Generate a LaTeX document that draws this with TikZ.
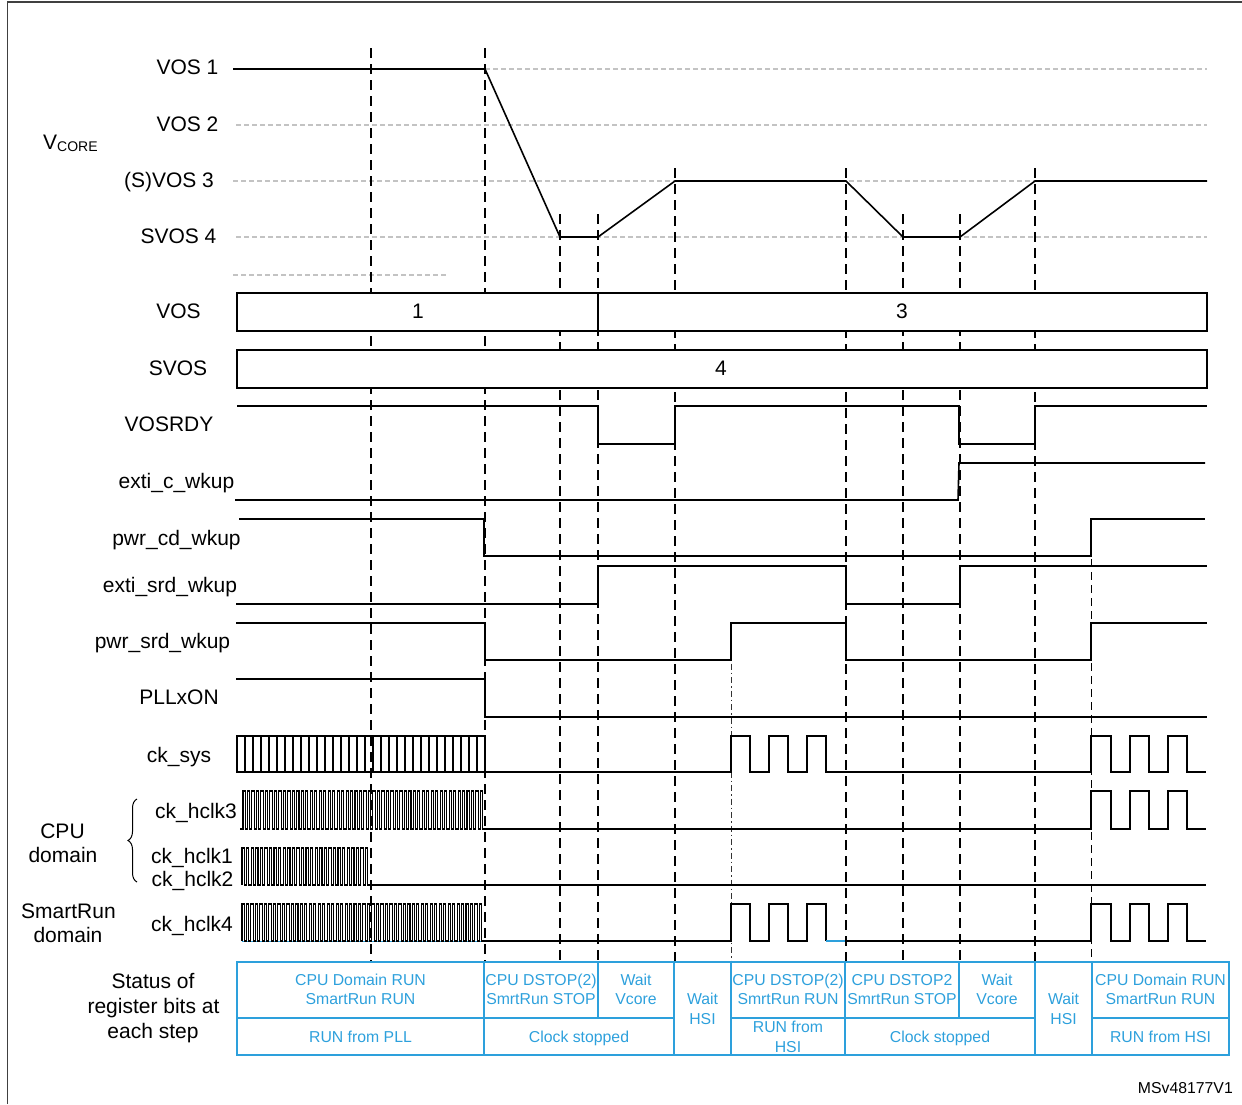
\documentclass[tikz,border=0pt]{standalone}
\usepackage{fontspec}
\setmainfont{Liberation Sans}
\usetikzlibrary{decorations.pathreplacing}
\definecolor{tblue}{RGB}{45,160,220}
\definecolor{lgray}{RGB}{195,195,195}
\begin{document}
\begin{tikzpicture}[x=1pt,y=-1pt,
  sig/.style={line width=1.6pt, line join=miter},
  dense/.style={line width=1.05pt},
  vdash/.style={line width=1.3pt, dash pattern=on 10pt off 6pt},
  vdashthin/.style={line width=0.9pt, dash pattern=on 8pt off 5pt},
  vdashdot/.style={line width=0.9pt, black!80, dash pattern=on 6pt off 3pt on 1.5pt off 3pt},
  gdash/.style={lgray, line width=1.1pt, dash pattern=on 5pt off 3pt},
  lbl/.style={inner sep=0pt, anchor=base, font=\fontsize{21}{23}\selectfont},
  tbl/.style={inner sep=0pt, anchor=base, text=tblue, font=\fontsize{15.8}{18}\selectfont},
  tline/.style={tblue, line width=1.5pt}]
\useasboundingbox (0,0) rectangle (1242,1104);
% frame
\draw[line width=1.5pt, black!75] (7.5,1104) -- (7.5,2) -- (1242,2);

% grey level lines
\draw[gdash] (485,69) -- (1207,69);
\draw[gdash] (236,125) -- (1207,125);
\draw[gdash] (233,181) -- (1207,181);
\draw[gdash] (236,237) -- (1207,237);
\draw[gdash] (233,275) -- (447,275);

% vertical dashed lines
\foreach \x/\y in {371/48, 485/48, 560/214, 598/214, 675/168, 846/168, 903/214, 960/214, 1035/168}
  \draw[vdash] (\x,\y) -- (\x,962);
\draw[vdashdot] (731,623) -- (731,962);
\draw[vdashthin] (1091,520) -- (1091,962);

% VCORE
\draw[sig] (233,69) -- (485,69) -- (560,237) -- (598,237) -- (675,181) -- (846,181) -- (903,237) -- (960,237) -- (1035,181) -- (1207,181);

% VOS / SVOS boxes
\draw[sig, fill=white] (237,293) rectangle (1207,331);
\draw[sig] (598,293) -- (598,331);
\node[lbl] (v1) at (418,318) {1};
\node[lbl] (v3) at (902,318) {3};
\draw[sig, fill=white] (237,350) rectangle (1207,388);
\node[lbl] (s4) at (721,375) {4};

% digital signals
\draw[sig] (237,406) -- (598,406) -- (598,444) -- (675,444) -- (675,406) -- (959,406) -- (959,444) -- (1035,444) -- (1035,406) -- (1207,406);
\draw[sig] (235,500) -- (958,500) -- (959,463) -- (1205,463);
\draw[sig] (239,519) -- (484,519) -- (484,556) -- (1091,556) -- (1091,519) -- (1205,519);
\draw[sig] (236,604) -- (598,604) -- (598,566) -- (846,566) -- (846,604) -- (960,604) -- (960,566) -- (1207,566);
\draw[sig] (236,623) -- (485,623) -- (485,660) -- (731,660) -- (731,623) -- (846,623) -- (846,660) -- (1091,660) -- (1091,623) -- (1207,623);
\draw[sig] (236,679) -- (485,679) -- (485,717) -- (1207,717);

% ck_sys
\draw[dense] (237,736) rectangle (485,772);
\foreach \x in {245,253,...,477} \draw[dense] (\x,736) -- (\x,772);
\draw[sig] (485,772) -- (731,772) -- (731,736) -- (750,736) -- (750,772) -- (769,772) -- (769,736) -- (788,736) -- (788,772) -- (807,772) -- (807,736) -- (826,736) -- (826,772) -- (1091,772) -- (1091,736) -- (1111,736) -- (1111,772) -- (1130,772) -- (1130,736) -- (1149,736) -- (1149,772) -- (1168,772) -- (1168,736) -- (1187,736) -- (1187,772) -- (1206,772);

% ck_hclk3
\draw[dense] (240,829) -- (243,829) \foreach \i in {1,...,54}{ -- ++(0,-38) -- ++(2.24,0) -- ++(0,38) -- ++(2.24,0)};
\draw[sig] (485,829) -- (1091,829) -- (1091,791) -- (1111,791) -- (1111,829) -- (1130,829) -- (1130,791) -- (1149,791) -- (1149,829) -- (1168,829) -- (1168,791) -- (1187,791) -- (1187,829) -- (1206,829);

% ck_hclk1/2
\draw[dense] (242,885) \foreach \i in {1,...,28}{ -- ++(0,-37) -- ++(2.286,0) -- ++(0,37) -- ++(2.286,0)};
\draw[sig] (370,885) -- (1206,885);

% ck_hclk4
\draw[tblue, line width=1pt] (242,941.5) -- (485,941.5);
\draw[dense] (242,941) \foreach \i in {1,...,54}{ -- ++(0,-37) -- ++(2.24,0) -- ++(0,37) -- ++(2.24,0)};
\draw[sig] (484,941) -- (731,941) -- (731,904) -- (750,904) -- (750,941) -- (769,941) -- (769,904) -- (788,904) -- (788,941) -- (807,941) -- (807,904) -- (826,904) -- (826,941);
\draw[tblue, line width=1.6pt] (826,941) -- (845,941);
\draw[sig] (845,941) -- (1091,941) -- (1091,904) -- (1111,904) -- (1111,941) -- (1130,941) -- (1130,904) -- (1149,904) -- (1149,941) -- (1168,941) -- (1168,904) -- (1187,904) -- (1187,941) -- (1206,941);

% labels
\node[inner sep=0pt, anchor=base west, font=\fontsize{21}{23}\selectfont] (vcore) at (43,149) {V\raisebox{-2pt}{\fontsize{14}{15}\selectfont CORE}};
\node[lbl] (l1) at (187.5,74) {VOS 1};
\node[lbl] (l2) at (187.5,131) {VOS 2};
\node[lbl] (l3) at (169,187) {(S)VOS 3};
\node[lbl] (l4) at (178.5,243) {SVOS 4};
\node[lbl] (lvos) at (178.5,318) {VOS};
\node[lbl] (lsvos) at (178,375) {SVOS};
\node[lbl] (lrdy) at (169,431) {VOSRDY};
\node[lbl] (lecw) at (176.5,488) {exti\_c\_wkup};
\node[lbl] (lpcw) at (176.5,545) {pwr\_cd\_wkup};
\node[lbl] (lesw) at (170,592) {exti\_srd\_wkup};
\node[lbl] (lpsw) at (162.5,648) {pwr\_srd\_wkup};
\node[lbl] (lpll) at (179,704) {PLLxON};
\node[lbl] (lsys) at (179,762) {ck\_sys};
\node[lbl] (lh3) at (196,818) {ck\_hclk3};
\node[lbl] (lh1) at (192,863) {ck\_hclk1};
\node[lbl] (lh2) at (192.5,886) {ck\_hclk2};
\node[lbl] (lh4) at (192,931) {ck\_hclk4};
\node[lbl] (lcpu) at (62.5,838) {CPU};
\node[lbl] (lcpud) at (63,862) {domain};
\node[lbl] (lsr) at (68.5,918) {SmartRun};
\node[lbl] (lsrd) at (68,942) {domain};
\node[lbl] (lst1) at (153,988) {Status of};
\node[lbl] (lst2) at (153.5,1013) {register bits at};
\node[lbl] (lst3) at (153,1038) {each step};
\draw[line width=1pt, decorate, decoration={brace, amplitude=9pt}] (137,882) -- (137,799);

% status table
\draw[tline] (237,962) rectangle (1229,1055);
\foreach \x in {484,674,731,845,1035,1092} \draw[tline] (\x,962) -- (\x,1055);
\foreach \x in {598,959} \draw[tline] (\x,962) -- (\x,1018);
\draw[tline] (237,1018) -- (674,1018);
\draw[tline] (731,1018) -- (1035,1018);
\draw[tline] (1092,1018) -- (1229,1018);

\node[tbl] (t1a) at (360.5,985) {CPU Domain RUN};
\node[tbl] (t1b) at (360.5,1004) {SmartRun RUN};
\node[tbl] (t2a) at (541,985) {CPU DSTOP(2)};
\node[tbl] (t2b) at (541,1004) {SmrtRun STOP};
\node[tbl] (t3a) at (636,985) {Wait};
\node[tbl] (t3b) at (636,1004) {Vcore};
\node[tbl] (t4a) at (702.5,1004) {Wait};
\node[tbl] (t4b) at (702.5,1024) {HSI};
\node[tbl] (t5a) at (788,985) {CPU DSTOP(2)};
\node[tbl] (t5b) at (788,1004) {SmrtRun RUN};
\node[tbl] (t6a) at (902,985) {CPU DSTOP2};
\node[tbl] (t6b) at (902,1004) {SmrtRun STOP};
\node[tbl] (t7a) at (997,985) {Wait};
\node[tbl] (t7b) at (997,1004) {Vcore};
\node[tbl] (t8a) at (1063.5,1004) {Wait};
\node[tbl] (t8b) at (1063.5,1024) {HSI};
\node[tbl] (t9a) at (1160.5,985) {CPU Domain RUN};
\node[tbl] (t9b) at (1160.5,1004) {SmartRun RUN};
\node[tbl] (b1) at (360.5,1042) {RUN from PLL};
\node[tbl] (b2) at (579,1042) {Clock stopped};
\node[tbl] (b3a) at (788,1032) {RUN from};
\node[tbl] (b3b) at (788,1052) {HSI};
\node[tbl] (b4) at (940,1042) {Clock stopped};
\node[tbl] (b5) at (1160.5,1042) {RUN from HSI};

\node[inner sep=0pt, anchor=base east, font=\fontsize{15.8}{18}\selectfont] (ms) at (1233,1093) {MSv48177V1};
\end{tikzpicture}
\end{document}
